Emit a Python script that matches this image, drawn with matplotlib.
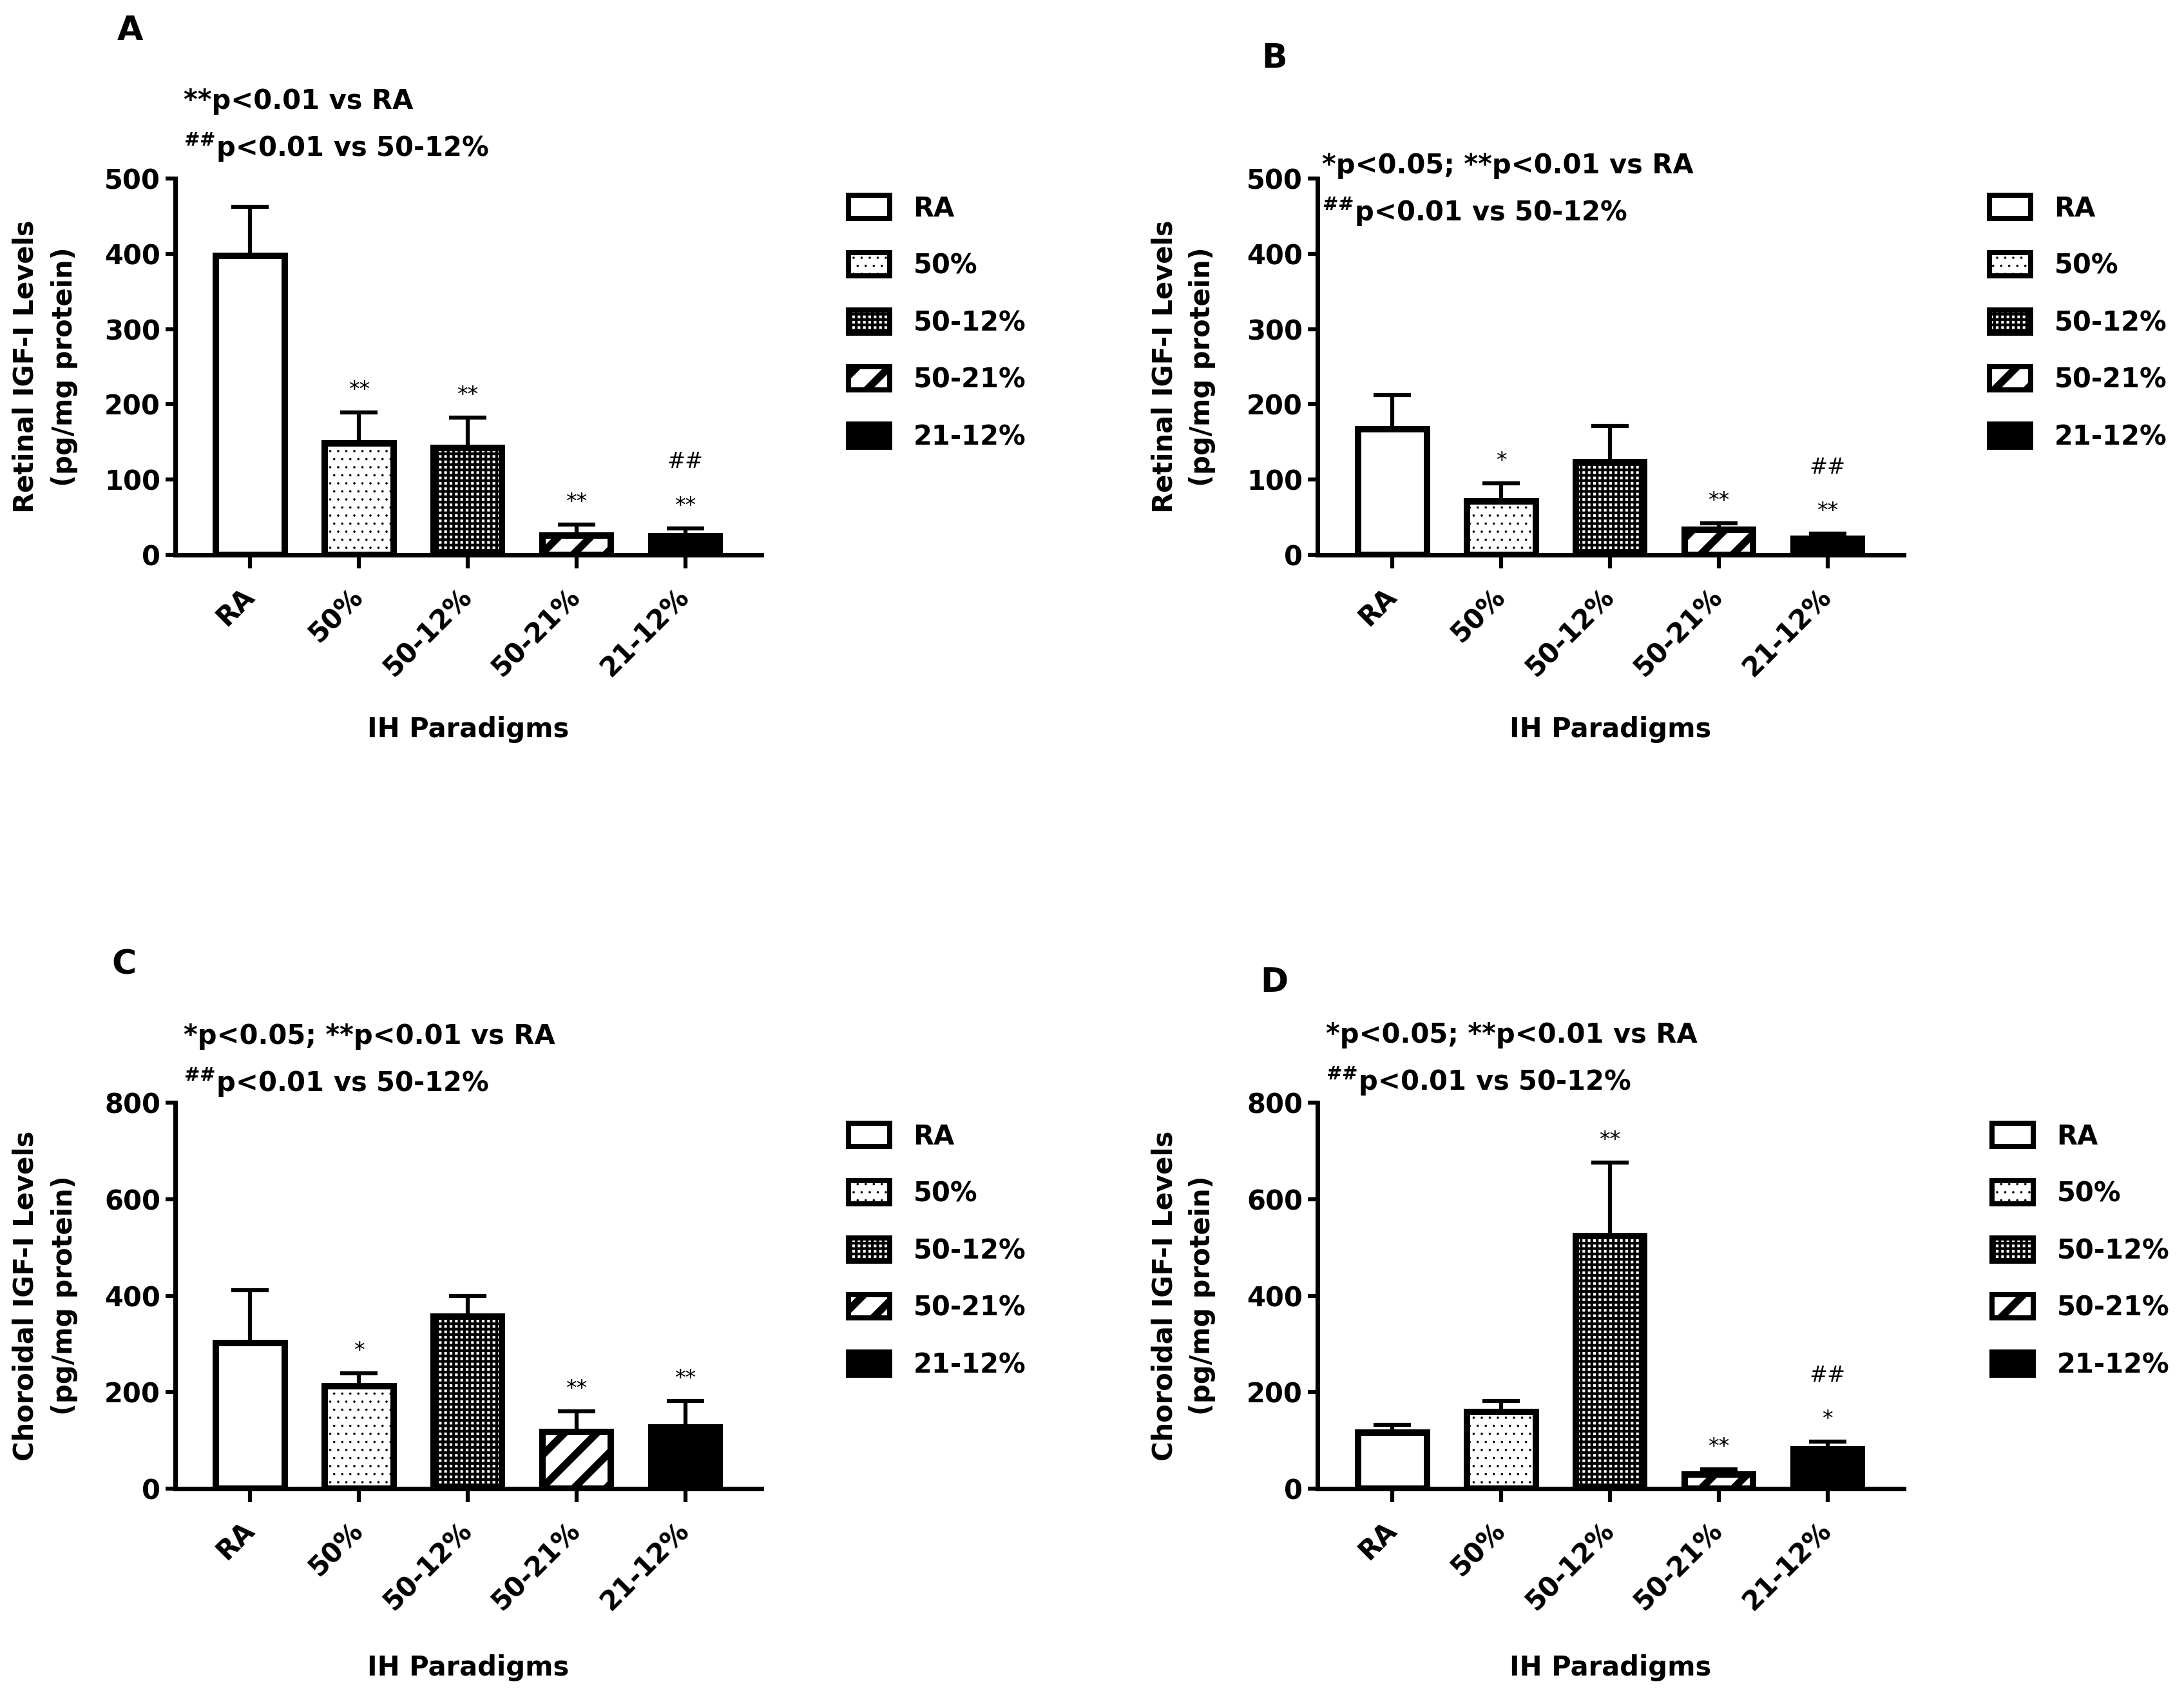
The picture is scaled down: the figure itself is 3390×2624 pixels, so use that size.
import matplotlib
matplotlib.use("Agg")
import matplotlib.pyplot as plt
import matplotlib.patches as mpatches
from matplotlib.legend_handler import HandlerPatch

plt.rcParams['font.family'] = ['DejaVu Sans']
plt.rcParams['font.weight'] = 'bold'
plt.rcParams['mathtext.default'] = 'regular'

W, H, DPI = 3390, 2624, 150

groups = ["RA", "50%", "50-12%", "50-21%", "21-12%"]

# --- panel A : retinal IGF-I ---
a_mean = [397, 148, 142, 26, 25]
a_err = [65, 41, 40, 14, 10]
a_star = ["", "**", "**", "**", "**"]
a_hash = ["", "", "", "", "##"]

# --- panel B : retinal IGF-I ---
b_mean = [167, 71, 123, 33, 21]
b_err = [45, 24, 48, 9, 7]
b_star = ["", "*", "", "**", "**"]
b_hash = ["", "", "", "", "##"]

# --- panel C : choroidal IGF-I ---
c_mean = [302, 212, 356, 118, 127]
c_err = [110, 27, 43, 42, 55]
c_star = ["", "*", "", "**", "**"]
c_hash = ["", "", "", "", ""]

# --- panel D : choroidal IGF-I ---
d_mean = [116, 159, 523, 30, 82]
d_err = [16, 23, 153, 10, 15]
d_star = ["", "", "**", "**", "*"]
d_hash = ["", "", "", "", "##"]

note_a = ["**p<0.01 vs RA", r"$^{\#\#}$p<0.01 vs 50-12%"]
note_bcd = ["*p<0.05; **p<0.01 vs RA", r"$^{\#\#}$p<0.01 vs 50-12%"]
ylab_ret = ["Retinal IGF-I Levels", "(pg/mg protein)"]
ylab_cho = ["Choroidal IGF-I Levels", "(pg/mg protein)"]
xlab = "IH Paradigms"

# bar styles: facecolor, hatch, hatch linewidth
STYLES = [("white", None, 0),
          ("white", "..", 0.5),
          ("white", "+++", 2.0),
          ("white", "/", 5.5),
          ("black", None, 0)]

FS = 20


def fx(x):
    return x / W


def fy(y):
    return 1 - y / H


def make_patch_style(p, st):
    face, hatch, hlw = st
    p.set_facecolor(face)
    p.set_edgecolor("black")
    if hatch:
        p.set_hatch(hatch)
        try:
            p.set_hatch_linewidth(hlw)
        except AttributeError:
            pass


def legend_patch(legend, orig_handle, xdescent, ydescent, width, height, fontsize):
    # keep the per-patch hatch width in the legend boxes
    p = mpatches.Rectangle((-xdescent, -ydescent), width, height)
    try:
        p.set_hatch_linewidth(orig_handle.get_hatch_linewidth())
    except AttributeError:
        pass
    return p


def panel(fig, box, letter, letter_xy, means, errs, stars, hashes, ymax, yticks,
          notes, note_xy, ylab, ylab_x, xlab_xy, leg_xy):
    left, top, right, bottom = box
    ax = fig.add_axes([fx(left), fy(bottom), (right - left) / W, (bottom - top) / H])
    x = list(range(len(groups)))
    bars = ax.bar(x, means, width=0.63, linewidth=4.8, zorder=2)
    for b, st in zip(bars, STYLES):
        make_patch_style(b, st)
    ax.errorbar(x, means, yerr=[[0] * len(errs), errs], fmt="none", ecolor="black",
                elinewidth=3, capsize=14, capthick=3, zorder=3)

    for xi, m, e, s, h in zip(x, means, errs, stars, hashes):
        if s:
            ax.annotate(s, (xi, m + e), xytext=(0, 12), textcoords="offset points",
                        ha="center", va="baseline", fontsize=16, fontweight="normal")
        if h:
            ax.annotate(h, (xi, m + e), xytext=(0, 45), textcoords="offset points",
                        ha="center", va="baseline", fontsize=16, fontweight="normal")

    ax.set_xlim(-0.69, 4.70)
    ax.set_ylim(0, ymax)
    ax.set_yticks(yticks)
    ax.set_xticks(x)
    ax.set_xticklabels(groups, rotation=45, ha="right", va="center",
                       rotation_mode="anchor")
    for sp in ["top", "right"]:
        ax.spines[sp].set_visible(False)
    for sp in ["left", "bottom"]:
        ax.spines[sp].set_linewidth(3.4)
    ax.tick_params(axis="y", length=7, width=3, pad=4, labelsize=FS)
    ax.tick_params(axis="x", length=10, width=3, pad=18, labelsize=FS)

    fig.text(fx(letter_xy[0]), fy(letter_xy[1]), letter, fontsize=25,
             ha="center", va="center")
    fig.text(fx(note_xy[0]), fy(note_xy[1]), notes[0], fontsize=FS,
             ha="left", va="center")
    fig.text(fx(note_xy[0]), fy(note_xy[1] + 72), notes[1], fontsize=FS,
             ha="left", va="center")
    yc = (top + bottom) / 2
    fig.text(fx(ylab_x[0]), fy(yc), ylab[0], rotation=90, fontsize=FS,
             ha="center", va="center")
    fig.text(fx(ylab_x[1]), fy(yc), ylab[1], rotation=90, fontsize=FS,
             ha="center", va="center")
    fig.text(fx(xlab_xy[0]), fy(xlab_xy[1]), xlab, fontsize=FS,
             ha="center", va="center")

    handles = []
    for st in STYLES:
        p = mpatches.Patch(linewidth=3.8)
        make_patch_style(p, st)
        handles.append(p)
    fig.legend(handles, groups, loc="center left",
               bbox_to_anchor=(fx(leg_xy[0]), fy(leg_xy[1])), frameon=False,
               fontsize=FS, handlelength=1.54, handleheight=0.96,
               labelspacing=1.12, handletextpad=0.87, borderpad=0,
               borderaxespad=0,
               handler_map={mpatches.Patch: HandlerPatch(patch_func=legend_patch)})
    return ax


fig = plt.figure(figsize=(W / DPI, H / DPI), dpi=DPI)

panel(fig, (272, 277, 1182, 861), "A", (202, 48), a_mean, a_err, a_star, a_hash,
      500, [0, 100, 200, 300, 400, 500], note_a, (285, 157), ylab_ret, (40, 100),
      (727, 1132), (1317, 501))
panel(fig, (2045, 277, 2955, 861), "B", (1978, 91), b_mean, b_err, b_star, b_hash,
      500, [0, 100, 200, 300, 400, 500], note_bcd, (2052, 257), ylab_ret,
      (1808, 1866), (2500, 1132), (3088, 501))
panel(fig, (272, 1711, 1182, 2310), "C", (193, 1498), c_mean, c_err, c_star, c_hash,
      800, [0, 200, 400, 600, 800], note_bcd, (285, 1608), ylab_cho, (40, 100),
      (727, 2588), (1317, 1941))
panel(fig, (2045, 1711, 2955, 2310), "D", (1978, 1525), d_mean, d_err, d_star, d_hash,
      800, [0, 200, 400, 600, 800], note_bcd, (2058, 1606), ylab_cho,
      (1808, 1866), (2500, 2588), (3092, 1941))

fig.savefig("out.png", dpi=DPI)
